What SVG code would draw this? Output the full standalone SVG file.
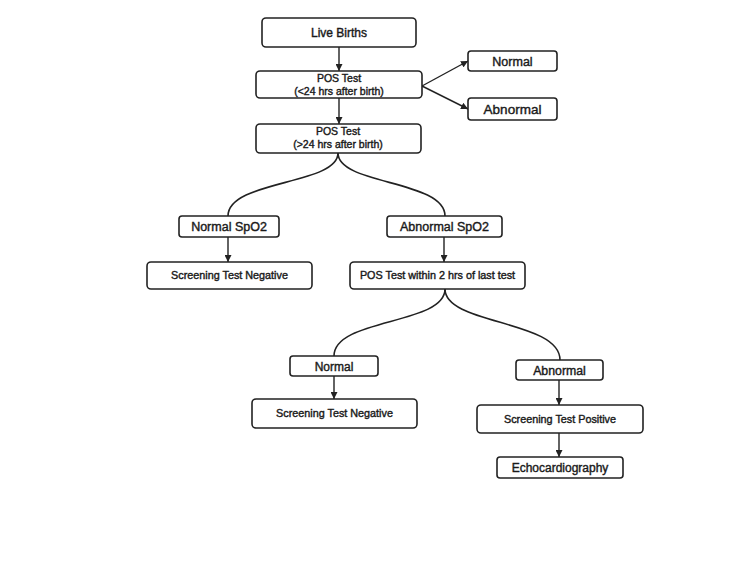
<svg xmlns="http://www.w3.org/2000/svg" width="750" height="561" viewBox="0 0 750 561">
<defs>
<marker id="ah" viewBox="0 0 10 10" refX="10" refY="5" markerWidth="7" markerHeight="7" markerUnits="userSpaceOnUse" orient="auto">
<path d="M0,0 L10,5 L0,10 z" fill="#222"/>
</marker>
<style>
.box{fill:#fff;stroke:#222;stroke-width:1.6}
text{font-family:"Liberation Sans",Arial,sans-serif;fill:#1a1a1a;text-anchor:middle;stroke:#1a1a1a;stroke-width:0.4}
.c{fill:none;stroke:#222;stroke-width:1.6}
.a{fill:none;stroke:#222;stroke-width:1.4;marker-end:url(#ah)}
</style>
</defs>
<rect width="750" height="561" fill="#fff"/>
<g id="connectors">
<line class="a" x1="339" y1="47" x2="339" y2="71"/>
<line class="a" x1="422" y1="86" x2="468" y2="61"/>
<line class="a" x1="422" y1="86" x2="468" y2="109"/>
<line class="a" x1="339" y1="98" x2="339" y2="124"/>
<path class="c" d="M338,153 C338,185 228,180 228,216"/>
<path class="c" d="M338,153 C338,185 445,180 445,216"/>
<line class="a" x1="228" y1="237" x2="228" y2="262"/>
<line class="a" x1="444" y1="237" x2="444" y2="262"/>
<path class="c" d="M445,289 C445,325 334,318 334,356"/>
<path class="c" d="M445,289 C445,325 560,320 560,360"/>
<line class="a" x1="334" y1="376" x2="334" y2="399"/>
<line class="a" x1="559" y1="380" x2="559" y2="405"/>
<line class="a" x1="559" y1="433" x2="559" y2="457"/>
</g>
<g id="live-births"><rect class="box" x="262" y="18" width="154" height="29" rx="4"/><text x="339" y="37" font-size="12">Live Births</text></g>
<g id="pos-test-1"><rect class="box" x="256" y="71" width="166" height="27" rx="4"/><text x="339" y="82" font-size="10.5">POS Test</text><text x="339" y="95" font-size="10.5">(&lt;24 hrs after birth)</text></g>
<g id="normal-1"><rect class="box" x="468" y="51" width="89" height="20" rx="3"/><text x="512.5" y="65.5" font-size="12.5">Normal</text></g>
<g id="abnormal-1"><rect class="box" x="468" y="98" width="89" height="22" rx="3"/><text x="512.5" y="114" font-size="13.5">Abnormal</text></g>
<g id="pos-test-2"><rect class="box" x="256" y="124" width="165" height="29" rx="4"/><text x="338" y="135" font-size="10.5">POS Test</text><text x="338" y="148" font-size="10.5">(&gt;24 hrs after birth)</text></g>
<g id="normal-spo2"><rect class="box" x="179" y="216" width="100" height="21" rx="3"/><text x="229" y="231" font-size="12.5">Normal SpO2</text></g>
<g id="abnormal-spo2"><rect class="box" x="387" y="216" width="115" height="21" rx="3"/><text x="444.5" y="231" font-size="12.5">Abnormal SpO2</text></g>
<g id="neg-1"><rect class="box" x="147" y="262" width="165" height="27" rx="4"/><text x="229.5" y="279" font-size="10.8">Screening Test Negative</text></g>
<g id="pos-within"><rect class="box" x="350" y="262" width="175" height="27" rx="4"/><text x="437.5" y="279" font-size="10.8">POS Test within 2 hrs of last test</text></g>
<g id="normal-2"><rect class="box" x="290" y="356" width="88" height="20" rx="3"/><text x="334" y="370.5" font-size="12">Normal</text></g>
<g id="abnormal-2"><rect class="box" x="516" y="360" width="87" height="20" rx="3"/><text x="559.5" y="374.5" font-size="12.3">Abnormal</text></g>
<g id="neg-2"><rect class="box" x="252" y="399" width="165" height="29" rx="4"/><text x="334.5" y="417" font-size="10.8">Screening Test Negative</text></g>
<g id="pos-result"><rect class="box" x="477" y="405" width="166" height="28" rx="4"/><text x="560" y="422.5" font-size="10.8">Screening Test Positive</text></g>
<g id="echo"><rect class="box" x="497" y="457" width="126" height="21" rx="3"/><text x="560" y="472" font-size="12">Echocardiography</text></g>
</svg>
